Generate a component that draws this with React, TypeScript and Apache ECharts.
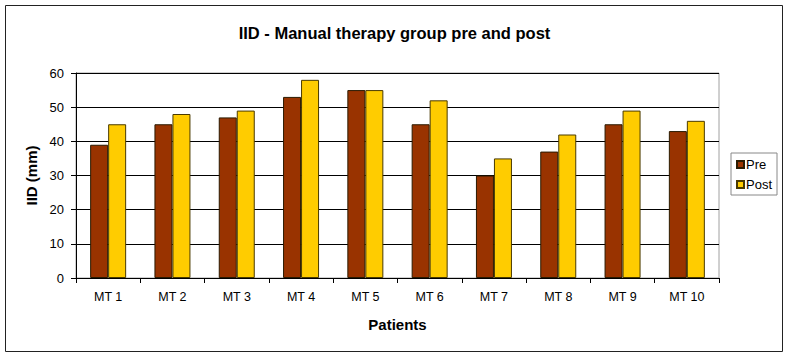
import React, { useEffect, useRef } from "react";
import * as echarts from "echarts";

const categories = ["MT 1", "MT 2", "MT 3", "MT 4", "MT 5", "MT 6", "MT 7", "MT 8", "MT 9", "MT 10"];
const preValues = [39, 45, 47, 53, 55, 45, 30, 37, 45, 43];
const postValues = [45, 48, 49, 58, 55, 52, 35, 42, 49, 46];
const yTicks = { min: 0, max: 60, interval: 10 };

const FONT = "Arial, 'Liberation Sans', Helvetica, sans-serif";

export default function App() {
  const ref = useRef<HTMLDivElement>(null);

  useEffect(() => {
    document.body.style.margin = "0";
    const chart = echarts.init(ref.current!, null, { renderer: "svg" });
    chart.setOption({
      animation: false,
      backgroundColor: "#ffffff",
      textStyle: { fontFamily: FONT, color: "#000" },
      title: {
        text: "IID - Manual therapy group pre and post",
        left: "center",
        top: 19,
        textStyle: { fontFamily: FONT, fontSize: 16.5, fontWeight: "bold", color: "#000" },
      },
      graphic: [
        {
          type: "rect",
          shape: { x: 5.5, y: 5.5, width: 777, height: 346 },
          style: { fill: "none", stroke: "#222", lineWidth: 1 },
          silent: true,
        },
      ],
      legend: {
        orient: "vertical",
        left: 731,
        top: 153,
        data: ["Pre", "Post"],
        icon: "rect",
        itemWidth: 7,
        itemHeight: 7,
        itemGap: 7,
        padding: [5, 5, 4, 5],
        borderColor: "#888",
        borderWidth: 1,
        textStyle: { fontFamily: FONT, fontSize: 13, color: "#000", padding: [0, 0, 0, -3] },
      },
      grid: {
        left: 76,
        right: 70,
        top: 73,
        bottom: 86,
        show: true,
        borderColor: "#a0a0a0",
        borderWidth: 1,
        backgroundColor: "#fff",
      },
      xAxis: {
        type: "category",
        data: categories,
        name: "Patients",
        nameLocation: "middle",
        nameGap: 39,
        nameTextStyle: { fontFamily: FONT, fontSize: 15, fontWeight: "bold", color: "#000" },
        axisLine: { show: true, lineStyle: { color: "#000", width: 1 } },
        axisTick: { show: true, length: 5, lineStyle: { color: "#000" } },
        axisLabel: { fontFamily: FONT, fontSize: 12.5, color: "#000", margin: 12 },
        splitLine: { show: false },
      },
      yAxis: {
        type: "value",
        min: yTicks.min,
        max: yTicks.max,
        interval: yTicks.interval,
        name: "IID (mm)",
        nameLocation: "middle",
        nameGap: 37,
        nameTextStyle: { fontFamily: FONT, fontSize: 15, fontWeight: "bold", color: "#000" },
        axisLine: { show: true, lineStyle: { color: "#000", width: 1 } },
        axisTick: { show: true, length: 5, lineStyle: { color: "#000" } },
        axisLabel: { fontFamily: FONT, fontSize: 13, color: "#000", margin: 12 },
        splitLine: { show: true, lineStyle: { color: "#000", width: 1 } },
      },
      series: [
        {
          name: "Pre",
          type: "bar",
          data: preValues,
          barWidth: 18,
          barGap: "0%",
          itemStyle: { color: "#993300", borderColor: "#2a1a00", borderWidth: 1 },
        },
        {
          name: "Post",
          type: "bar",
          data: postValues,
          barWidth: 18,
          barGap: "0%",
          itemStyle: { color: "#FFCC00", borderColor: "#4a3a00", borderWidth: 1 },
        },
      ],
    });
    return () => chart.dispose();
  }, []);

  return <div ref={ref} style={{ width: 789, height: 364 }} />;
}
